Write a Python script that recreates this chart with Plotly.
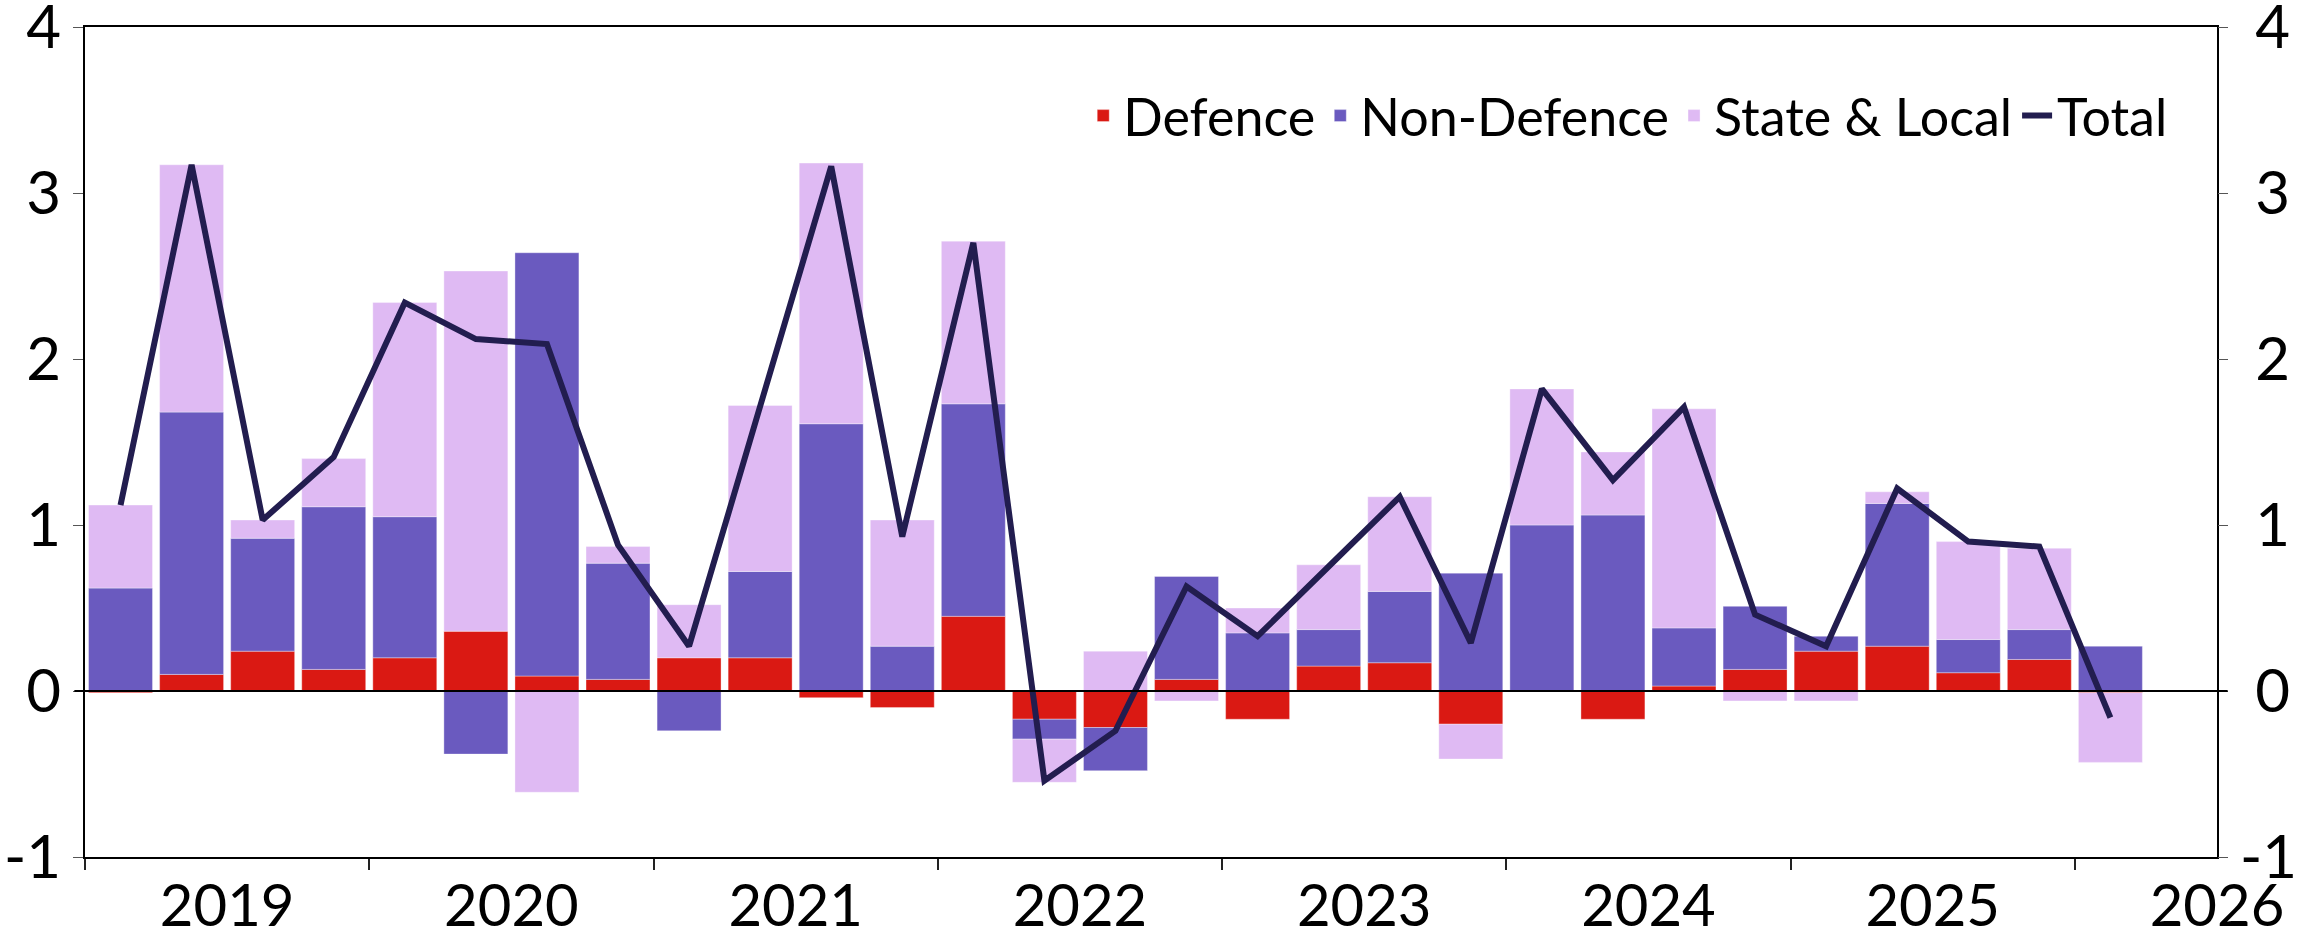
import plotly.graph_objects as go

quarters = ["2019Q1","2019Q2","2019Q3","2019Q4",
            "2020Q1","2020Q2","2020Q3","2020Q4",
            "2021Q1","2021Q2","2021Q3","2021Q4",
            "2022Q1","2022Q2","2022Q3","2022Q4",
            "2023Q1","2023Q2","2023Q3","2023Q4",
            "2024Q1","2024Q2","2024Q3","2024Q4",
            "2025Q1","2025Q2","2025Q3","2025Q4",
            "2026Q1"]

defence = [-0.01, 0.10, 0.24, 0.13,
           0.20, 0.36, 0.09, 0.07,
           0.20, 0.20, -0.04, -0.10,
           0.45, -0.17, -0.22, 0.07,
           -0.17, 0.15, 0.17, -0.20,
           0.00, -0.17, 0.03, 0.13,
           0.24, 0.27, 0.11, 0.19,
           -0.01]

non_defence = [0.62, 1.58, 0.68, 0.98,
               0.85, -0.38, 2.55, 0.70,
               -0.24, 0.52, 1.61, 0.27,
               1.28, -0.12, -0.26, 0.62,
               0.35, 0.22, 0.43, 0.71,
               1.00, 1.06, 0.35, 0.38,
               0.09, 0.86, 0.20, 0.18,
               0.27]

state_local = [0.50, 1.49, 0.11, 0.29,
               1.29, 2.17, -0.61, 0.10,
               0.32, 1.00, 1.57, 0.76,
               0.98, -0.26, 0.24, -0.06,
               0.15, 0.39, 0.57, -0.21,
               0.82, 0.38, 1.32, -0.06,
               -0.06, 0.07, 0.59, 0.49,
               -0.42]

total = [1.12, 3.17, 1.03, 1.41,
         2.34, 2.12, 2.09, 0.88,
         0.27, 1.72, 3.16, 0.93,
         2.70, -0.54, -0.24, 0.63,
         0.33, 0.75, 1.17, 0.29,
         1.82, 1.27, 1.71, 0.46,
         0.27, 1.22, 0.90, 0.87,
         -0.16]

year_labels = ["2019", "2020", "2021", "2022", "2023", "2024", "2025", "2026"]
y_ticks = [-1, 0, 1, 2, 3, 4]

# numeric position: middle of each quarter, in years
xpos = [int(q[:4]) + (int(q[-1]) - 1) * 0.25 + 0.125 for q in quarters]

C_DEF = "#DA1913"
C_NON = "#6A5ABF"
C_SL = "#DFBAF3"
C_TOT = "#221D4F"
FONT = "Lato"
TICK_SIZE = 60
XTICK_SIZE = 58

fig = go.Figure()
edge = dict(color="rgba(255,255,255,0.35)", width=1)
fig.add_trace(go.Bar(x=xpos, y=defence, name="Defence", marker=dict(color=C_DEF, line=edge), width=0.225))
fig.add_trace(go.Bar(x=xpos, y=non_defence, name="Non-Defence", marker=dict(color=C_NON, line=edge), width=0.225))
fig.add_trace(go.Bar(x=xpos, y=state_local, name="State & Local", marker=dict(color=C_SL, line=edge), width=0.225))
fig.add_trace(go.Scatter(x=xpos, y=total, name="Total", mode="lines",
                         line=dict(color=C_TOT, width=6), yaxis="y2"))

year_centres = [int(y) + 0.5 for y in year_labels]
year_bounds = [int(y) for y in year_labels]

fig.update_layout(
    width=2298, height=939,
    barmode="relative",
    plot_bgcolor="white", paper_bgcolor="white",
    margin=dict(l=85, r=81, t=27, b=82, autoexpand=False),
    font=dict(family=FONT, size=TICK_SIZE, color="black"),
    showlegend=True,
    legend=dict(orientation="h", xanchor="right", yanchor="middle",
                x=0.979, y=0.893, font=dict(size=52, family=FONT),
                bgcolor="rgba(0,0,0,0)", traceorder="normal",
                itemwidth=30),
    xaxis=dict(range=[2019, 2026.5], tickvals=year_centres, ticktext=year_labels,
               ticks="", showgrid=False, zeroline=False, automargin=False,
               ticklabeloverflow="allow", ticklabelstandoff=-3,
               showline=True, linecolor="black", linewidth=2, mirror=True,
               tickfont=dict(size=XTICK_SIZE),
               minor=dict(tickvals=year_bounds, ticks="outside", ticklen=11,
                          tickcolor="#222", tickwidth=2, showgrid=False)),
    yaxis=dict(range=[-1, 4], tickvals=y_ticks, ticktext=[str(v) for v in y_ticks],
               ticks="outside", ticklen=10, tickcolor="#555", tickwidth=1,
               showgrid=False, zeroline=False, automargin=False,
               ticklabeloverflow="allow",
               showline=True, linecolor="black", linewidth=2, mirror=True,
               tickfont=dict(size=TICK_SIZE)),
    yaxis2=dict(range=[-1, 4], overlaying="y", side="right", tickvals=y_ticks,
                ticktext=[("\u00a0" + str(v)) if v >= 0 else str(v) for v in y_ticks],
                ticks="outside", ticklen=10, tickcolor="#555", tickwidth=1,
                showgrid=False, zeroline=False, showline=False, automargin=False,
                ticklabeloverflow="allow",
                tickfont=dict(size=TICK_SIZE)),
    shapes=[dict(type="line", xref="paper", yref="y", x0=-0.005, x1=1.005, y0=0, y1=0,
                 line=dict(color="black", width=2), layer="above")],
)

fig.write_html("out.html", config={"displayModeBar": False},
               post_script="document.body.style.margin='0';document.body.style.overflow='hidden';")
